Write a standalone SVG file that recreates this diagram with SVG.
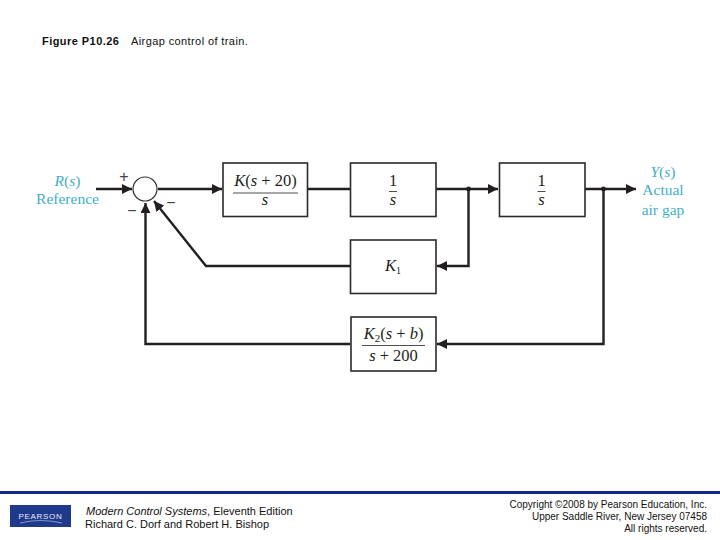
<svg xmlns="http://www.w3.org/2000/svg" width="720" height="540" viewBox="0 0 720 540">
<style>
.box{fill:#fff;stroke:#2a2a2a;stroke-width:1.6}
.w{fill:none;stroke:#231f20;stroke-width:2.4}
.fr{fill:none;stroke:#231f20;stroke-width:.8}
.m{font-family:"Liberation Serif",serif;font-size:16.500px;fill:#231f20;text-anchor:middle}
.i{font-style:italic}
.c{font-family:"Liberation Serif",serif;font-size:15.500px;fill:#3fb0c8;text-anchor:middle}
.f{font-family:"Liberation Sans",Arial,sans-serif;font-size:11px;fill:#111}
.r{font-size:10px;text-anchor:end}
.sgn{font-family:"Liberation Sans",sans-serif;font-size:16px;fill:#444;text-anchor:middle}
</style>
<defs>
<marker id="a" markerUnits="userSpaceOnUse" markerWidth="11" markerHeight="10" refX="10" refY="5" orient="auto"><path d="M0 0L10 5L0 10Z" fill="#231f20"/></marker>
</defs>
<rect width="720" height="540" fill="#fff"/>
<text x="42" y="45" class="f"><tspan font-weight="bold" letter-spacing=".45">Figure P10.26</tspan><tspan x="131" letter-spacing=".4">Airgap control of train.</tspan></text>
<g id="connectors">
<path class="w" marker-end="url(#a)" d="M96 189H132"/>
<path class="w" marker-end="url(#a)" d="M158 189H222"/>
<path class="w" d="M307 189H350"/>
<path class="w" marker-end="url(#a)" d="M436 189H498"/>
<path class="w" marker-end="url(#a)" d="M585 189H636"/>
<path class="w" marker-end="url(#a)" d="M468.500 189V266H437"/>
<path class="w" marker-end="url(#a)" d="M603.500 189V344H437"/>
<path class="w" marker-end="url(#a)" d="M350 266H206L154 201"/>
<path class="w" marker-end="url(#a)" d="M350 344H145.500V203"/>
<circle cx="468.500" cy="189" r="2.400" fill="#231f20"/>
<circle cx="603.500" cy="189" r="2.400" fill="#231f20"/>
</g>
<g id="sum"><circle cx="145" cy="189" r="12" fill="#fff" stroke="#333" stroke-width="1.200"/>
<text x="124" y="182" class="sgn">+</text><text x="132" y="216" class="sgn">−</text><text x="171" y="208" class="sgn">−</text></g>
<g id="input"><text x="67.500" y="186" class="c"><tspan class="i">R</tspan>(<tspan class="i">s</tspan>)</text><text x="67.500" y="204" class="c">Reference</text></g>
<g id="output"><text x="663" y="177" class="c"><tspan class="i">Y</tspan>(<tspan class="i">s</tspan>)</text><text x="663" y="195" class="c">Actual</text><text x="663" y="215" class="c">air gap</text></g>
<g id="controller"><rect class="box" x="223" y="163" width="84.500" height="53.500"/>
<text x="265.500" y="186" class="m"><tspan class="i">K</tspan>(<tspan class="i">s</tspan> + 20)</text><path class="fr" d="M233 193H298"/><text x="265" y="205" class="m i">s</text></g>
<g id="int1"><rect class="box" x="350.500" y="163" width="85.500" height="53.500"/>
<text x="393" y="186" class="m">1</text><path class="fr" d="M389 191.500H397"/><text x="393" y="205" class="m i">s</text></g>
<g id="int2"><rect class="box" x="499.500" y="163" width="85.500" height="53.500"/>
<text x="541.500" y="186" class="m">1</text><path class="fr" d="M537.500 191.500H545.500"/><text x="541.500" y="205" class="m i">s</text></g>
<g id="k1"><rect class="box" x="350.500" y="240" width="85.500" height="53.500"/>
<text x="385" y="271" class="m i" style="text-anchor:start">K</text><text x="396" y="274" style="font-family:'Liberation Serif',serif;font-size:10px;fill:#231f20">1</text></g>
<g id="k2"><rect class="box" x="351" y="317" width="85" height="54"/>
<text x="393.500" y="339" class="m"><tspan class="i">K</tspan><tspan dy="3" font-size="11">2</tspan><tspan dy="-3">(</tspan><tspan class="i">s</tspan> + <tspan class="i">b</tspan>)</text><path class="fr" d="M362 345.500H425"/><text x="393.500" y="361" class="m"><tspan class="i">s</tspan> + 200</text></g>
<g id="footer"><rect x="0" y="491" width="720" height="3" fill="#16278a"/>
<rect x="10" y="505" width="61" height="22" fill="#1f3a8c"/>
<text x="40.500" y="518.500" style="font-family:'Liberation Sans',sans-serif;font-size:8px;letter-spacing:.7px;fill:#e8ecf6;text-anchor:middle">PEARSON</text>
<path d="M20 523Q40 518 62 523" fill="none" stroke="#c9d2ea" stroke-width=".6"/>
<text x="86" y="515" class="f"><tspan font-style="italic">Modern Control Systems</tspan>, Eleventh Edition</text>
<text x="85" y="528" class="f">Richard C. Dorf and Robert H. Bishop</text>
<text x="707" y="508" class="f r">Copyright ©2008 by Pearson Education, Inc.</text>
<text x="707" y="520" class="f r">Upper Saddle River, New Jersey 07458</text>
<text x="707" y="532" class="f r">All rights reserved.</text></g>
</svg>
